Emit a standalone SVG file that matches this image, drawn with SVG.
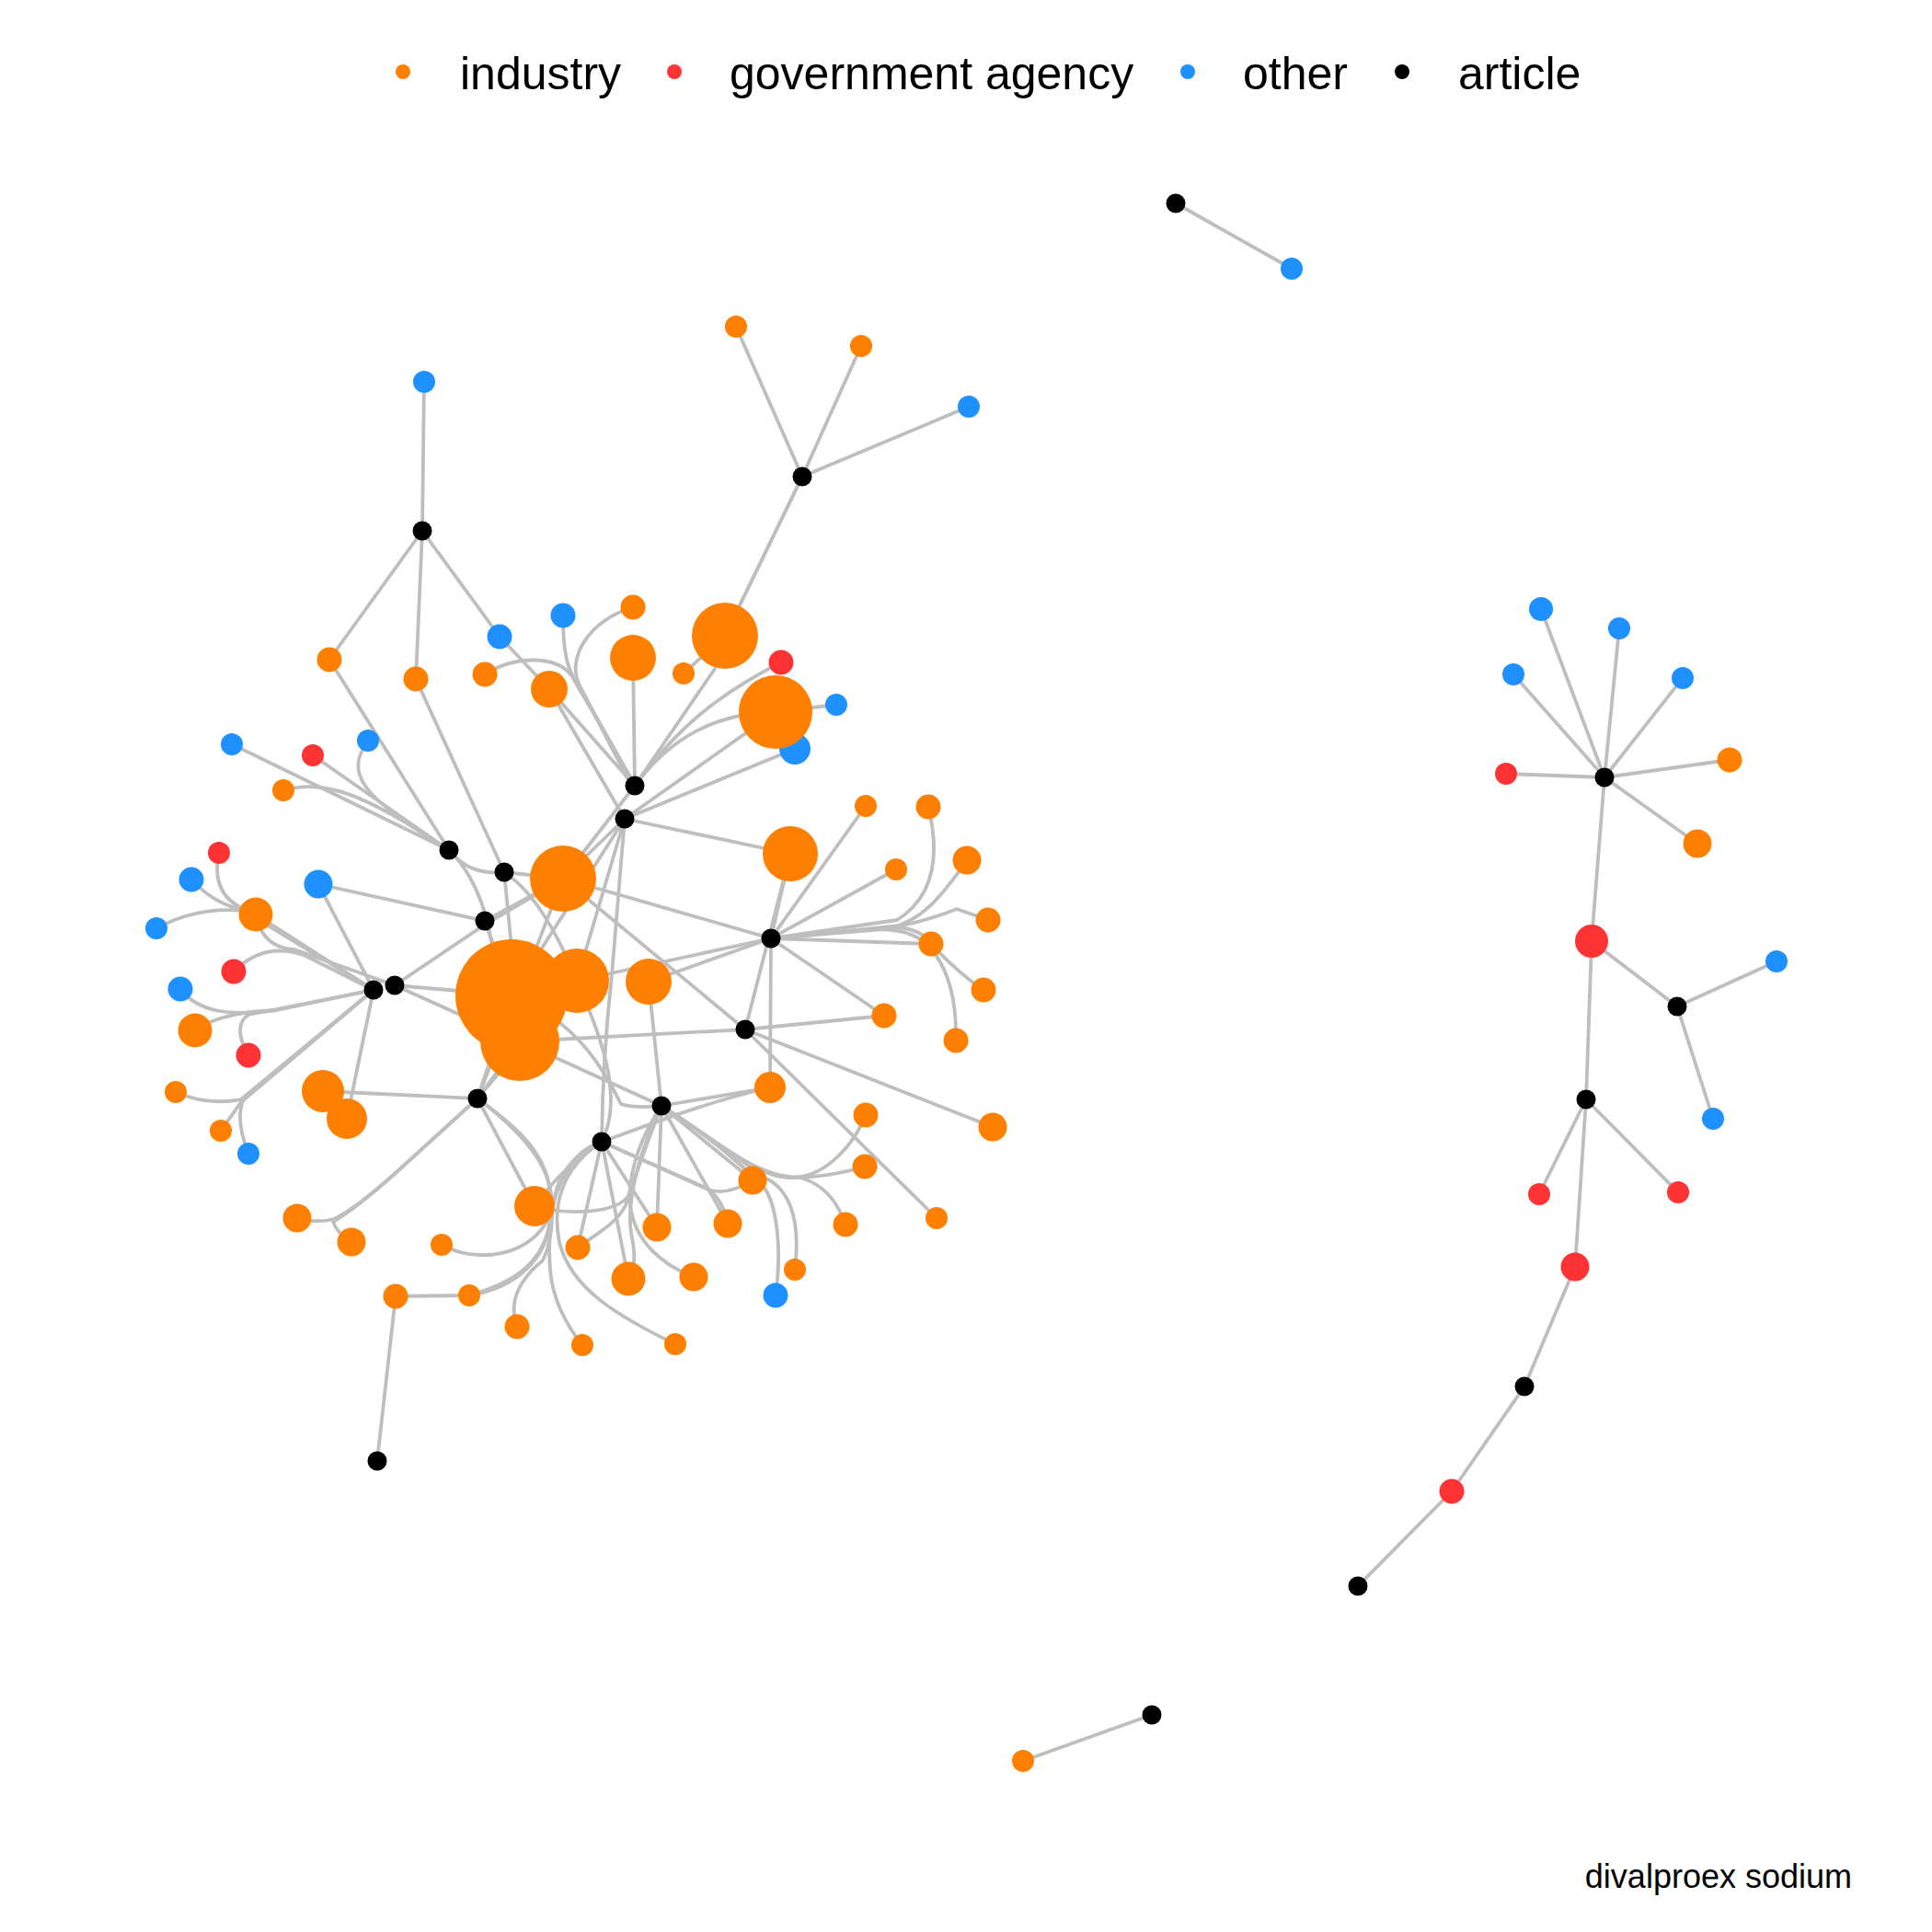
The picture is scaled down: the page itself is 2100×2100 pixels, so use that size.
<svg xmlns="http://www.w3.org/2000/svg" width="2100" height="2100" viewBox="0 0 2100 2100">
<style>
.e{fill:none;stroke:#bebebe;stroke-width:3.8;stroke-linecap:round;stroke-linejoin:round}
.ind{fill:#ff8000}.gov{fill:#ff3333}.oth{fill:#1e90ff}.art{fill:#000000}
.lg{font-family:"Liberation Sans",Arial,sans-serif;font-size:50px;fill:#000}
.cap{font-family:"Liberation Sans",Arial,sans-serif;font-size:36px;fill:#000}
</style>
<rect width="2100" height="2100" fill="#ffffff"/>
<g id="legend">
<circle class="ind" cx="438" cy="78" r="8"/><text class="lg" x="500" y="97">industry</text>
<circle class="gov" cx="733" cy="78" r="8"/><text class="lg" x="793" y="97">government agency</text>
<circle class="oth" cx="1291" cy="78" r="8"/><text class="lg" x="1351" y="97">other</text>
<circle class="art" cx="1524" cy="78" r="8"/><text class="lg" x="1585" y="97">article</text>
</g>
<g id="edges">
<path class="e" d="M1278 221L1404 292"/>
<path class="e" d="M1252 1864L1112 1914"/>
<path class="e" d="M459 577L461 415"/>
<path class="e" d="M459 577L358 717"/>
<path class="e" d="M459 577L452 738"/>
<path class="e" d="M459 577L543 692"/>
<path class="e" d="M872 518L800 355"/>
<path class="e" d="M872 518L936 376"/>
<path class="e" d="M872 518L1053 442"/>
<path class="e" d="M872 518L788 691"/>
<path class="e" d="M743 732L788 691L872 518"/>
<path class="e" d="M358 717L488 924"/>
<path class="e" d="M452 738L548 948"/>
<path class="e" d="M430 1409L410 1588"/>
<path class="e" d="M1744 845L1675 662"/>
<path class="e" d="M1744 845L1760 683"/>
<path class="e" d="M1744 845L1645 733"/>
<path class="e" d="M1744 845L1829 737"/>
<path class="e" d="M1744 845L1637 841"/>
<path class="e" d="M1744 845L1880 826"/>
<path class="e" d="M1744 845L1845 917"/>
<path class="e" d="M1744 845L1730 1023"/>
<path class="e" d="M1730 1023L1823 1094"/>
<path class="e" d="M1730 1023L1724 1195"/>
<path class="e" d="M1823 1094L1931 1045"/>
<path class="e" d="M1823 1094L1862 1216"/>
<path class="e" d="M1724 1195L1673 1298"/>
<path class="e" d="M1724 1195L1824 1296"/>
<path class="e" d="M1724 1195L1712 1377"/>
<path class="e" d="M1712 1377L1657 1507"/>
<path class="e" d="M1657 1507L1578 1621"/>
<path class="e" d="M1578 1621L1476 1724"/>
<path class="e" d="M252 809L488 924"/>
<path class="e" d="M340 821L488 924"/>
<path class="e" d="M400 805C375 840 390 865 488 924"/>
<path class="e" d="M308 859C350 848 390 858 488 924"/>
<path class="e" d="M488 924Q525 960 535 1030"/>
<path class="e" d="M488 924C505 945 525 950 548 948L612 955"/>
<path class="e" d="M548 948L556 1030"/>
<path class="e" d="M548 948Q590 975 627 1066"/>
<path class="e" d="M527 1001L346 961"/>
<path class="e" d="M527 1001L612 955"/>
<path class="e" d="M527 1001L556 1082"/>
<path class="e" d="M429 1071L527 1005L612 955"/>
<path class="e" d="M346 961L406 1076"/>
<path class="e" d="M278 994L406 1076"/>
<path class="e" d="M278 994Q285 1030 320 1032L429 1071"/>
<path class="e" d="M254 1056C275 1035 300 1028 330 1038L406 1076"/>
<path class="e" d="M238 927Q228 975 270 990L406 1076"/>
<path class="e" d="M208 956Q235 985 270 990L406 1076"/>
<path class="e" d="M170 1009Q215 985 265 990L406 1076"/>
<path class="e" d="M196 1075C215 1100 250 1105 300 1098L406 1076"/>
<path class="e" d="M270 1147Q252 1115 270 1103L406 1076"/>
<path class="e" d="M212 1120Q240 1100 300 1098L406 1076"/>
<path class="e" d="M191 1187Q225 1202 262 1195L406 1076"/>
<path class="e" d="M240 1229L262 1198L406 1076"/>
<path class="e" d="M270 1254Q255 1215 265 1195L406 1076"/>
<path class="e" d="M406 1076L377 1216"/>
<path class="e" d="M429 1071L556 1082"/>
<path class="e" d="M429 1071L565 1132"/>
<path class="e" d="M519 1194L351 1186"/>
<path class="e" d="M519 1194L430 1275Q385 1315 363 1325Q345 1330 323 1324"/>
<path class="e" d="M519 1194L430 1275Q385 1315 362 1328Q366 1340 382 1350"/>
<path class="e" d="M519 1194L581 1311"/>
<path class="e" d="M519 1194L565 1132"/>
<path class="e" d="M519 1194L556 1082"/>
<path class="e" d="M519 1194L627 1066"/>
<path class="e" d="M519 1194L612 955"/>
<path class="e" d="M480 1353C520 1375 580 1365 598 1320C606 1280 580 1240 519 1194"/>
<path class="e" d="M430 1409L510 1408C560 1400 595 1370 600 1320C605 1280 620 1255 654 1241"/>
<path class="e" d="M510 1408C555 1395 592 1375 598 1325C603 1285 625 1258 654 1241"/>
<path class="e" d="M562 1442C552 1415 565 1390 590 1370C605 1340 600 1300 595 1280C585 1245 555 1220 519 1194"/>
<path class="e" d="M633 1462C615 1440 600 1410 598 1380C595 1340 600 1300 610 1280C625 1255 640 1245 654 1241"/>
<path class="e" d="M734 1461C670 1430 620 1400 608 1350C600 1310 610 1270 654 1241"/>
<path class="e" d="M627 1066C650 1120 680 1190 654 1241"/>
<path class="e" d="M556 1082C630 1110 660 1170 675 1200Q690 1205 719 1202"/>
<path class="e" d="M654 1241C700 1225 760 1200 837 1182"/>
<path class="e" d="M654 1241L770 1293Q790 1300 818 1283"/>
<path class="e" d="M654 1241L765 1290Q785 1300 791 1330"/>
<path class="e" d="M654 1241L714 1334"/>
<path class="e" d="M654 1241L683 1390"/>
<path class="e" d="M654 1241L628 1356"/>
<path class="e" d="M654 1241Q610 1270 581 1311"/>
<path class="e" d="M679 890L665 1060Q655 1150 654 1241"/>
<path class="e" d="M719 1202L705 1067"/>
<path class="e" d="M719 1202L837 1182"/>
<path class="e" d="M719 1202L714 1334"/>
<path class="e" d="M719 1202L791 1330"/>
<path class="e" d="M719 1202L818 1283"/>
<path class="e" d="M719 1202L565 1132"/>
<path class="e" d="M754 1388C720 1375 690 1350 685 1310C682 1270 700 1230 719 1202"/>
<path class="e" d="M683 1390C692 1375 690 1360 686 1340C680 1300 700 1240 719 1202"/>
<path class="e" d="M628 1356C650 1340 670 1330 680 1310C690 1280 705 1235 719 1202"/>
<path class="e" d="M581 1311C620 1322 670 1318 683 1300Q700 1250 719 1202"/>
<path class="e" d="M719 1202C780 1240 820 1280 860 1280C900 1280 930 1240 941 1212"/>
<path class="e" d="M719 1202C780 1240 820 1280 860 1280Q900 1280 940 1268"/>
<path class="e" d="M719 1202C780 1240 820 1280 870 1280Q905 1290 919 1331"/>
<path class="e" d="M719 1202C780 1240 820 1275 840 1285C860 1300 870 1330 864 1380"/>
<path class="e" d="M719 1202C780 1240 815 1275 830 1290C845 1310 850 1360 843 1408"/>
<path class="e" d="M838 1020L859 928"/>
<path class="e" d="M838 1020L941 876"/>
<path class="e" d="M838 1020L974 945"/>
<path class="e" d="M838 1020L970 1008C1000 1000 1020 980 1051 935"/>
<path class="e" d="M838 1020L980 1006Q1010 1000 1040 988L1074 1000"/>
<path class="e" d="M1009 877C1022 930 1015 975 975 1000L838 1020"/>
<path class="e" d="M838 1020L1012 1026"/>
<path class="e" d="M838 1020L970 1008Q1000 1008 1012 1026"/>
<path class="e" d="M1039 1131C1040 1085 1030 1055 1015 1035Q1000 1012 960 1010L838 1020"/>
<path class="e" d="M1069 1076C1045 1060 1025 1040 1012 1026"/>
<path class="e" d="M838 1020L961 1104"/>
<path class="e" d="M838 1020L837 1182"/>
<path class="e" d="M838 1020L612 955"/>
<path class="e" d="M838 1020L705 1067"/>
<path class="e" d="M838 1020L627 1066"/>
<path class="e" d="M810 1119L859 928"/>
<path class="e" d="M810 1119L961 1104"/>
<path class="e" d="M810 1119L1079 1225"/>
<path class="e" d="M810 1119L1018 1324"/>
<path class="e" d="M810 1119L565 1132"/>
<path class="e" d="M612 955L810 1119"/>
<path class="e" d="M690 854L688 715"/>
<path class="e" d="M690 854L777 727"/>
<path class="e" d="M690 854C730 800 770 760 849 720"/>
<path class="e" d="M690 854C730 800 780 775 843 774L909 766"/>
<path class="e" d="M679 890L843 774"/>
<path class="e" d="M864 814L679 890"/>
<path class="e" d="M679 890L859 928"/>
<path class="e" d="M688 660C640 675 615 715 630 745L684 850"/>
<path class="e" d="M612 669C612 710 615 730 640 765L688 850"/>
<path class="e" d="M527 733C560 712 605 712 622 735L688 850"/>
<path class="e" d="M543 692L597 749L679 890"/>
<path class="e" d="M597 749L690 854"/>
<path class="e" d="M679 890L612 955"/>
<path class="e" d="M690 854L612 955"/>
<path class="e" d="M679 890L627 1066"/>
<path class="e" d="M679 890L556 1082"/>
</g>
<g id="nodes">
<g id="a1"><circle class="art" cx="459" cy="577" r="10.5"/></g>
<g id="a2"><circle class="art" cx="872" cy="518" r="10.5"/></g>
<g id="a3"><circle class="art" cx="1278" cy="221" r="10.5"/></g>
<g id="a4"><circle class="art" cx="488" cy="924" r="10.5"/></g>
<g id="a5"><circle class="art" cx="548" cy="948" r="10.5"/></g>
<g id="a6"><circle class="art" cx="527" cy="1001" r="10.5"/></g>
<g id="a7"><circle class="art" cx="690" cy="854" r="10.5"/></g>
<g id="a8"><circle class="art" cx="679" cy="890" r="10.5"/></g>
<g id="a9"><circle class="art" cx="406" cy="1076" r="10.5"/></g>
<g id="a10"><circle class="art" cx="429" cy="1071" r="10.5"/></g>
<g id="a11"><circle class="art" cx="519" cy="1194" r="10.5"/></g>
<g id="a12"><circle class="art" cx="838" cy="1020" r="10.5"/></g>
<g id="a13"><circle class="art" cx="810" cy="1119" r="10.5"/></g>
<g id="a14"><circle class="art" cx="719" cy="1202" r="10.5"/></g>
<g id="a15"><circle class="art" cx="654" cy="1241" r="10.5"/></g>
<g id="a16"><circle class="art" cx="410" cy="1588" r="10.5"/></g>
<g id="a17"><circle class="art" cx="1252" cy="1864" r="10.5"/></g>
<g id="a18"><circle class="art" cx="1744" cy="845" r="10.5"/></g>
<g id="a19"><circle class="art" cx="1823" cy="1094" r="10.5"/></g>
<g id="a20"><circle class="art" cx="1724" cy="1195" r="10.5"/></g>
<g id="a21"><circle class="art" cx="1657" cy="1507" r="10.5"/></g>
<g id="a22"><circle class="art" cx="1476" cy="1724" r="10.5"/></g>
<g id="o1"><circle class="oth" cx="461" cy="415" r="12"/></g>
<g id="o2"><circle class="ind" cx="358" cy="717" r="13.5"/></g>
<g id="o3"><circle class="ind" cx="452" cy="738" r="13.5"/></g>
<g id="o4"><circle class="oth" cx="543" cy="692" r="13.5"/></g>
<g id="o5"><circle class="ind" cx="800" cy="355" r="12"/></g>
<g id="o6"><circle class="ind" cx="936" cy="376" r="12"/></g>
<g id="o7"><circle class="oth" cx="1053" cy="442" r="12"/></g>
<g id="o8"><circle class="ind" cx="788" cy="691" r="36"/></g>
<g id="o9"><circle class="oth" cx="1404" cy="292" r="12"/></g>
<g id="o10"><circle class="ind" cx="1112" cy="1914" r="12"/></g>
<g id="o11"><circle class="ind" cx="527" cy="733" r="13.5"/></g>
<g id="o12"><circle class="oth" cx="612" cy="669" r="13.5"/></g>
<g id="o13"><circle class="ind" cx="597" cy="749" r="20"/></g>
<g id="o14"><circle class="ind" cx="688" cy="660" r="13.5"/></g>
<g id="o15"><circle class="ind" cx="688" cy="715" r="25"/></g>
<g id="o16"><circle class="ind" cx="743" cy="732" r="12"/></g>
<g id="o17"><circle class="gov" cx="849" cy="720" r="13.5"/></g>
<g id="o20"><circle class="oth" cx="864" cy="814" r="17"/></g>
<g id="o18"><circle class="ind" cx="843" cy="774" r="40"/></g>
<g id="o19"><circle class="oth" cx="909" cy="766" r="12"/></g>
<g id="o21"><circle class="ind" cx="859" cy="928" r="30"/></g>
<g id="o22"><circle class="ind" cx="612" cy="955" r="36"/></g>
<g id="o23"><circle class="ind" cx="556" cy="1082" r="61"/></g>
<g id="o24"><circle class="ind" cx="627" cy="1066" r="35"/></g>
<g id="o25"><circle class="ind" cx="565" cy="1132" r="43"/></g>
<g id="o26"><circle class="ind" cx="705" cy="1067" r="25"/></g>
<g id="o27"><circle class="oth" cx="252" cy="809" r="12"/></g>
<g id="o28"><circle class="gov" cx="340" cy="821" r="12"/></g>
<g id="o29"><circle class="oth" cx="400" cy="805" r="12"/></g>
<g id="o30"><circle class="ind" cx="308" cy="859" r="12"/></g>
<g id="o31"><circle class="gov" cx="238" cy="927" r="12"/></g>
<g id="o32"><circle class="oth" cx="208" cy="956" r="13.5"/></g>
<g id="o33"><circle class="oth" cx="346" cy="961" r="15.5"/></g>
<g id="o34"><circle class="ind" cx="278" cy="994" r="18.5"/></g>
<g id="o35"><circle class="oth" cx="170" cy="1009" r="12"/></g>
<g id="o36"><circle class="gov" cx="254" cy="1056" r="13.5"/></g>
<g id="o37"><circle class="oth" cx="196" cy="1075" r="13.5"/></g>
<g id="o38"><circle class="ind" cx="212" cy="1120" r="18.5"/></g>
<g id="o39"><circle class="gov" cx="270" cy="1147" r="13.5"/></g>
<g id="o40"><circle class="ind" cx="191" cy="1187" r="12"/></g>
<g id="o41"><circle class="ind" cx="240" cy="1229" r="12"/></g>
<g id="o42"><circle class="oth" cx="270" cy="1254" r="12"/></g>
<g id="o43"><circle class="ind" cx="351" cy="1186" r="23"/></g>
<g id="o44"><circle class="ind" cx="377" cy="1216" r="22"/></g>
<g id="o45"><circle class="ind" cx="323" cy="1324" r="15.5"/></g>
<g id="o46"><circle class="ind" cx="382" cy="1350" r="15.5"/></g>
<g id="o47"><circle class="ind" cx="480" cy="1353" r="12"/></g>
<g id="o48"><circle class="ind" cx="430" cy="1409" r="13.5"/></g>
<g id="o49"><circle class="ind" cx="510" cy="1408" r="12"/></g>
<g id="o50"><circle class="ind" cx="562" cy="1442" r="13.5"/></g>
<g id="o51"><circle class="ind" cx="633" cy="1462" r="12"/></g>
<g id="o52"><circle class="ind" cx="581" cy="1311" r="22"/></g>
<g id="o53"><circle class="ind" cx="628" cy="1356" r="13.5"/></g>
<g id="o54"><circle class="ind" cx="683" cy="1390" r="18.5"/></g>
<g id="o55"><circle class="ind" cx="714" cy="1334" r="15.5"/></g>
<g id="o56"><circle class="ind" cx="754" cy="1388" r="15.5"/></g>
<g id="o57"><circle class="ind" cx="791" cy="1330" r="15.5"/></g>
<g id="o58"><circle class="ind" cx="818" cy="1283" r="15.5"/></g>
<g id="o59"><circle class="ind" cx="734" cy="1461" r="12"/></g>
<g id="o60"><circle class="oth" cx="843" cy="1408" r="13.5"/></g>
<g id="o61"><circle class="ind" cx="864" cy="1380" r="12"/></g>
<g id="o62"><circle class="ind" cx="837" cy="1182" r="17"/></g>
<g id="o63"><circle class="ind" cx="919" cy="1331" r="13.5"/></g>
<g id="o64"><circle class="ind" cx="940" cy="1268" r="13.5"/></g>
<g id="o65"><circle class="ind" cx="941" cy="1212" r="13.5"/></g>
<g id="o66"><circle class="ind" cx="1018" cy="1324" r="12"/></g>
<g id="o67"><circle class="ind" cx="1079" cy="1225" r="15.5"/></g>
<g id="o68"><circle class="ind" cx="961" cy="1104" r="13.5"/></g>
<g id="o69"><circle class="ind" cx="1039" cy="1131" r="13.5"/></g>
<g id="o70"><circle class="ind" cx="1069" cy="1076" r="13.5"/></g>
<g id="o71"><circle class="ind" cx="1012" cy="1026" r="13.5"/></g>
<g id="o72"><circle class="ind" cx="1074" cy="1000" r="13.5"/></g>
<g id="o73"><circle class="ind" cx="1051" cy="935" r="15.5"/></g>
<g id="o74"><circle class="ind" cx="974" cy="945" r="12"/></g>
<g id="o75"><circle class="ind" cx="941" cy="876" r="12"/></g>
<g id="o76"><circle class="ind" cx="1009" cy="877" r="13.5"/></g>
<g id="r1"><circle class="oth" cx="1675" cy="662" r="13"/></g>
<g id="r2"><circle class="oth" cx="1760" cy="683" r="12"/></g>
<g id="r3"><circle class="oth" cx="1645" cy="733" r="12"/></g>
<g id="r4"><circle class="oth" cx="1829" cy="737" r="12"/></g>
<g id="r5"><circle class="gov" cx="1637" cy="841" r="12"/></g>
<g id="r6"><circle class="ind" cx="1880" cy="826" r="13.5"/></g>
<g id="r7"><circle class="ind" cx="1845" cy="917" r="15.5"/></g>
<g id="r8"><circle class="gov" cx="1730" cy="1023" r="18"/></g>
<g id="r9"><circle class="oth" cx="1931" cy="1045" r="12"/></g>
<g id="r10"><circle class="oth" cx="1862" cy="1216" r="12"/></g>
<g id="r11"><circle class="gov" cx="1673" cy="1298" r="12"/></g>
<g id="r12"><circle class="gov" cx="1824" cy="1296" r="12"/></g>
<g id="r13"><circle class="gov" cx="1712" cy="1377" r="15.5"/></g>
<g id="r14"><circle class="gov" cx="1578" cy="1621" r="13.5"/></g>
</g>
<text class="cap" x="2013" y="2052" text-anchor="end">divalproex sodium</text>
</svg>
